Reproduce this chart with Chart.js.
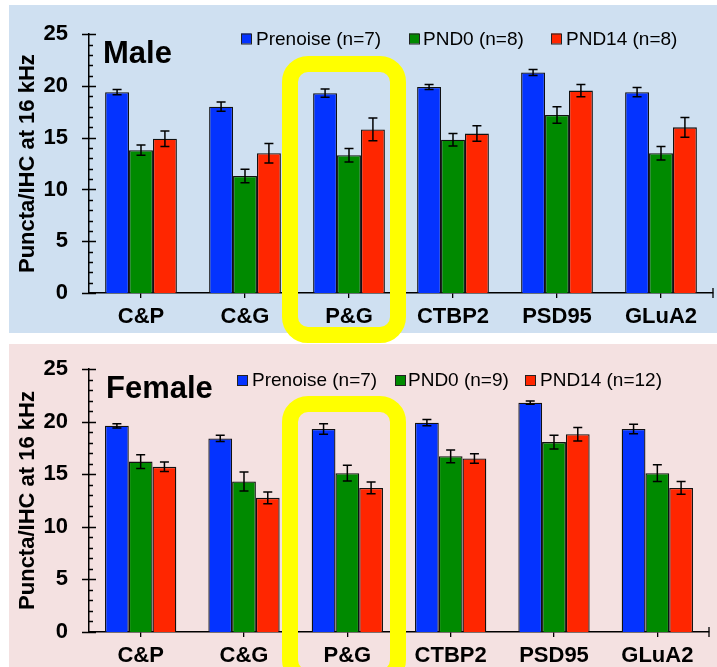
<!DOCTYPE html>
<html>
<head>
<meta charset="utf-8">
<script src="https://cdn.jsdelivr.net/npm/chart.js@4.4.1/dist/chart.umd.min.js"></script>
<style>
  body { margin: 0; width: 717px; height: 667px; position: relative; overflow: hidden; background: #fff; font-family: "Liberation Sans", Arial, sans-serif; }
  .panel { position: absolute; left: 9px; right: 0; }
  #malePanel { top: 5px; height: 328px; background: #cfe0f1; }
  #femalePanel { top: 344px; height: 323px; background: #f4e1e1; }
  canvas { position: absolute; left: 0; }
  #maleChart { top: 0; }
  #femaleChart { top: 334px; }
  .highlight { position: absolute; left: 282px; width: 124px; border: 16px solid #ffff00; border-radius: 26px; box-sizing: border-box; }
</style>
</head>
<body>
<div class="panel" id="malePanel"></div>
<div class="panel" id="femalePanel"></div>
<canvas id="maleChart" width="717" height="334"></canvas>
<canvas id="femaleChart" width="717" height="333"></canvas>
<div class="highlight" style="top:56px;height:287px;"></div>
<div class="highlight" style="top:396px;height:290px;"></div>

<script>
// categories and values
const categories = ['C&P', 'C&G', 'P&G', 'CTBP2', 'PSD95', 'GLuA2'];

const maleLabels = ['Prenoise (n=7)', 'PND0 (n=8)', 'PND14 (n=8)'];
const malePrenoise = [19.4, 18.0, 19.3, 19.9, 21.3, 19.4];
const malePrenoiseErr = [0.25, 0.45, 0.4, 0.25, 0.3, 0.45];
const malePnd0 = [13.8, 11.3, 13.3, 14.8, 17.2, 13.5];
const malePnd0Err = [0.5, 0.65, 0.65, 0.6, 0.8, 0.65];
const malePnd14 = [14.9, 13.5, 15.8, 15.4, 19.55, 16.0];
const malePnd14Err = [0.75, 0.95, 1.1, 0.75, 0.6, 0.95];

const femaleLabels = ['Prenoise (n=7)', 'PND0 (n=9)', 'PND14 (n=12)'];
const femalePrenoise = [19.6, 18.4, 19.3, 19.9, 21.8, 19.3];
const femalePrenoiseErr = [0.2, 0.3, 0.5, 0.3, 0.15, 0.45];
const femalePnd0 = [16.2, 14.3, 15.1, 16.7, 18.05, 15.1];
const femalePnd0Err = [0.65, 0.9, 0.75, 0.6, 0.65, 0.8];
const femalePnd14 = [15.7, 12.75, 13.7, 16.5, 18.8, 13.7];
const femalePnd14Err = [0.45, 0.55, 0.55, 0.45, 0.65, 0.6];

const yTicks = [0, 5, 10, 15, 20, 25];

const seriesColors = ['#0433ff', '#008a00', '#ff2600'];
const FONT = '"Liberation Sans", Arial, sans-serif';

// error bars, minor/major axis ticks, panel title and legend
const decoPlugin = {
  id: 'deco',
  afterDatasetsDraw(chart) {
    const ctx = chart.ctx;
    const y = chart.scales.y;
    ctx.save();
    ctx.strokeStyle = '#000';
    ctx.lineWidth = 1.5;
    chart.data.datasets.forEach((ds, i) => {
      const meta = chart.getDatasetMeta(i);
      meta.data.forEach((bar, j) => {
        const v = ds.data[j], e = ds.errors[j];
        const top = y.getPixelForValue(v + e);
        const bot = y.getPixelForValue(v - e);
        ctx.beginPath();
        ctx.moveTo(bar.x, top); ctx.lineTo(bar.x, bot);
        ctx.moveTo(bar.x - 4.5, top); ctx.lineTo(bar.x + 4.5, top);
        ctx.moveTo(bar.x - 4.5, bot); ctx.lineTo(bar.x + 4.5, bot);
        ctx.stroke();
      });
    });
    ctx.restore();
  },
  afterDraw(chart, args, opts) {
    const ctx = chart.ctx;
    const y = chart.scales.y;
    const area = chart.chartArea;
    ctx.save();
    ctx.strokeStyle = '#000';
    ctx.lineWidth = 1.3;
    ctx.beginPath();
    for (let v = 0; v <= 25; v++) {
      const py = Math.round(y.getPixelForValue(v)) + 0.5;
      if (v % 5 === 0) {
        ctx.moveTo(area.left - 7, py); ctx.lineTo(area.left + 7, py);
      } else {
        ctx.moveTo(area.left, py); ctx.lineTo(area.left + 4, py);
      }
    }
    // end tick on the x axis
    ctx.moveTo(area.right, area.bottom - 5); ctx.lineTo(area.right, area.bottom + 5);
    ctx.stroke();

    // panel title
    ctx.fillStyle = '#000';
    ctx.font = 'bold 31px ' + FONT;
    ctx.textBaseline = 'alphabetic';
    ctx.textAlign = 'left';
    ctx.fillText(opts.title, opts.titleX, opts.titleY);

    // legend
    ctx.font = '19px ' + FONT;
    ctx.textBaseline = 'middle';
    chart.data.datasets.forEach((ds, i) => {
      const bx = opts.boxX[i];
      ctx.fillStyle = ds.backgroundColor;
      ctx.fillRect(bx, opts.legendY - 5, 10, 10);
      ctx.lineWidth = 1;
      ctx.strokeStyle = '#222';
      ctx.strokeRect(bx + 0.5, opts.legendY - 4.5, 10, 10);
      ctx.fillStyle = '#000';
      ctx.fillText(ds.label, opts.textX[i], opts.legendY + 1);
    });
    ctx.restore();
  }
};

function makeChart(id, labels, series, errors, deco, pad, xHeight) {
  return new Chart(document.getElementById(id), {
    type: 'bar',
    data: {
      labels: categories,
      datasets: series.map((data, i) => ({
        label: labels[i],
        data: data,
        errors: errors[i],
        backgroundColor: seriesColors[i],
        borderColor: '#111',
        borderWidth: 1.3,
        categoryPercentage: 0.69,
        barPercentage: 1.0
      }))
    },
    options: {
      responsive: false,
      animation: false,
      layout: { padding: pad },
      plugins: {
        legend: { display: false },
        tooltip: { enabled: false },
        deco: deco
      },
      scales: {
        x: {
          afterFit: s => { s.height = xHeight; },
          grid: { offset: false, drawOnChartArea: false, tickLength: 5, color: '#000', lineWidth: 1.3 },
          border: { display: true, color: '#000', width: 1.5 },
          ticks: { color: '#000', padding: 6, font: { family: FONT, size: 22, weight: 'bold' } }
        },
        y: {
          min: 0,
          max: 25,
          afterFit: s => { s.width = 89; },
          afterBuildTicks: s => { s.ticks = yTicks.map(v => ({ value: v })); },
          grid: { display: false, drawTicks: false },
          border: { display: true, color: '#000', width: 1.5 },
          ticks: { color: '#000', padding: 21, font: { family: FONT, size: 22, weight: 'bold' } },
          title: {
            display: true,
            text: 'Puncta/IHC at 16 kHz',
            color: '#000',
            padding: { top: 15, bottom: 0 },
            font: { family: FONT, size: 22, weight: 'bold' }
          }
        }
      }
    },
    plugins: [decoPlugin]
  });
}

makeChart('maleChart', maleLabels,
  [malePrenoise, malePnd0, malePnd14],
  [malePrenoiseErr, malePnd0Err, malePnd14Err],
  { title: 'Male', titleX: 103, titleY: 63, legendY: 38.5, boxX: [241, 409, 551], textX: [256, 423, 566] },
  { left: 0, right: 4, top: 30, bottom: 0 }, 41);

makeChart('femaleChart', femaleLabels,
  [femalePrenoise, femalePnd0, femalePnd14],
  [femalePrenoiseErr, femalePnd0Err, femalePnd14Err],
  { title: 'Female', titleX: 106, titleY: 64, legendY: 46, boxX: [237, 395, 525], textX: [252, 408, 540] },
  { left: 0, right: 8, top: 35, bottom: 0 }, 35);
</script>
</body>
</html>
